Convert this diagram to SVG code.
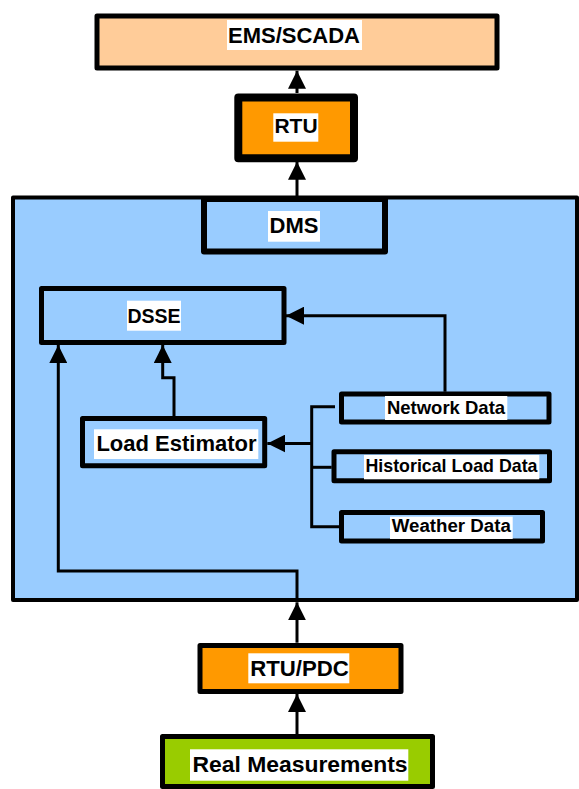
<svg xmlns="http://www.w3.org/2000/svg" width="579" height="789" viewBox="0 0 579 789">
<defs>
<style>
.box{stroke:#000;stroke-linejoin:round}
.lbl{font-family:"Liberation Sans",Arial,sans-serif;font-weight:bold;fill:#000;text-anchor:middle}
.bg{fill:#fff}
.conn{fill:none;stroke:#000;stroke-width:3}
</style>
<marker id="ah" markerUnits="userSpaceOnUse" markerWidth="18" markerHeight="18" viewBox="0 0 18 18" refX="18" refY="9" orient="auto">
<path d="M0,0 L18,9 L0,18 z" fill="#000"/>
</marker>
</defs>
<rect width="579" height="789" fill="#fff"/>

<g id="dms-container">
<rect class="box" x="13" y="197.5" width="564" height="402.5" fill="#99CCFF" stroke-width="4"/>
</g>

<g id="ems">
<rect class="box" x="97" y="16" width="400" height="52" fill="#FFCC99" stroke-width="5"/>
<rect class="bg" x="227" y="20" width="135" height="30"/>
<text class="lbl" x="294" y="42.7" font-size="22">EMS/SCADA</text>
</g>

<g id="rtu">
<rect class="box" x="238.3" y="97.5" width="115.7" height="60.8" fill="#FF9900" stroke-width="8"/>
<rect class="bg" x="273.3" y="113.3" width="45" height="28.4"/>
<text class="lbl" x="296" y="133.3" font-size="21">RTU</text>
</g>

<g id="dms">
<rect class="box" x="204" y="199" width="181" height="52.5" fill="#99CCFF" stroke-width="6"/>
<rect class="bg" x="268" y="211" width="52" height="30.7"/>
<text class="lbl" x="294" y="233.3" font-size="22">DMS</text>
</g>

<g id="dsse">
<rect class="box" x="41.5" y="288.5" width="242.5" height="54" fill="#99CCFF" stroke-width="5"/>
<rect class="bg" x="127" y="300.7" width="54" height="30"/>
<text class="lbl" x="154" y="322.7" font-size="19.5">DSSE</text>
</g>

<g id="load-estimator">
<rect class="box" x="82.5" y="418.5" width="182.2" height="47.2" fill="#99CCFF" stroke-width="5"/>
<rect class="bg" x="94" y="429.3" width="164.3" height="29.7"/>
<text class="lbl" x="176.5" y="451" font-size="22">Load Estimator</text>
</g>

<g id="network-data">
<rect class="box" x="341.5" y="394" width="207.5" height="28" fill="#99CCFF" stroke-width="5"/>
<rect class="bg" x="385" y="396" width="122.3" height="24"/>
<text class="lbl" x="446" y="414.3" font-size="18.5">Network Data</text>
</g>

<g id="historical-load-data">
<rect class="box" x="334" y="451.8" width="215.5" height="29" fill="#99CCFF" stroke-width="5"/>
<rect class="bg" x="364" y="455" width="175.3" height="24.3"/>
<text class="lbl" x="451.5" y="471.7" font-size="17.8">Historical Load Data</text>
</g>

<g id="weather-data">
<rect class="box" x="341.5" y="512.5" width="201" height="28.5" fill="#99CCFF" stroke-width="5"/>
<rect class="bg" x="390" y="516.7" width="122.7" height="22.3"/>
<text class="lbl" x="451.3" y="531.7" font-size="18.7">Weather Data</text>
</g>

<g id="rtu-pdc">
<rect class="box" x="200" y="645.5" width="201" height="46" fill="#FF9900" stroke-width="5"/>
<rect class="bg" x="248.3" y="653.3" width="101" height="30"/>
<text class="lbl" x="299.5" y="675.7" font-size="22.2">RTU/PDC</text>
</g>

<g id="real-measurements">
<rect class="box" x="162.5" y="736.5" width="270" height="50" fill="#99CC00" stroke-width="5"/>
<rect class="bg" x="190" y="749.3" width="218.3" height="31.4"/>
<text class="lbl" x="300" y="772.3" font-size="22.9">Real Measurements</text>
</g>

<g id="connectors">
<path class="conn" d="M297,93 V70.7" marker-end="url(#ah)"/>
<path class="conn" d="M297,196 V161.7" marker-end="url(#ah)"/>
<path class="conn" d="M445,391.7 V315.7 H286" marker-end="url(#ah)"/>
<path class="conn" d="M311.7,443.5 H267.3" marker-end="url(#ah)"/>
<path class="conn" d="M335,406.7 H311.7 V526.7 H339"/>
<path class="conn" d="M311.7,467.3 H331.7"/>
<path class="conn" d="M174,416 V377.7 H162.7 V345" marker-end="url(#ah)"/>
<path class="conn" d="M297,600 V571 H58.3 V345" marker-end="url(#ah)"/>
<path class="conn" d="M297,642.7 V602.3" marker-end="url(#ah)"/>
<path class="conn" d="M297,734 V694" marker-end="url(#ah)"/>
</g>
</svg>
